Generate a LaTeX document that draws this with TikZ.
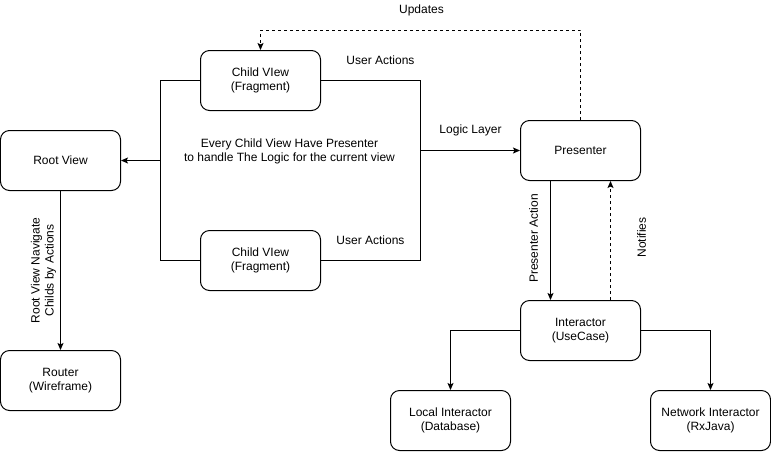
\documentclass[tikz,border=0pt]{standalone}
\usepackage{fontspec}
\setmainfont{Liberation Sans}
\usetikzlibrary{positioning, arrows.meta}

\begin{document}
\begin{tikzpicture}
	[
	   x = 1pt, y = -1pt,
	   every node/.style = {font = \fontsize{12}{14}\selectfont},
	   box/.style = {draw, line width = 1pt, rounded corners = 9pt, minimum width = 120pt, minimum height = 60pt, align = center},
	   wire/.style = {line width = 1pt},
	   conn/.style = {wire, -{Stealth[length = 7pt, width = 6pt, inset = 1.5pt]}},
	   notice/.style = {dash pattern = on 3pt off 3pt},
	   tag/.style = {inner sep = 1pt, align = center},
	]
	\useasboundingbox (-0.5,-0.5) rectangle (770.5,450.5);
	% boxes
	\node [box] (childtop) at (260,80) {Child VIew\\(Fragment)};
	\node [box] (childbot) at (260,260) {Child VIew\\(Fragment)};
	\node [box] (root) at (60,160) {Root View};
	\node [box] (router) at (60,380) {Router\\(Wireframe)};
	\node [box] (presenter) at (580,150) {Presenter};
	\node [box] (interactor) at (580,330) {Interactor\\(UseCase)};
	\node [box] (local) at (450,420) {Local Interactor\\(Database)};
	\node [box] (network) at (710,420) {Network Interactor\\(RxJava)};
	% bus lines round the child views
	\coordinate (leftbus) at (160,160);
	\coordinate (rightbus) at (420,150);
	\draw [wire] (childtop.west) -| (leftbus) |- (childbot.west);
	\draw [wire] (childtop.east) -| (rightbus) |- (childbot.east);
	\draw [conn] (leftbus) -- (root.east);
	\draw [conn] (rightbus) -- (presenter.west);
	% presenter and interactor
	\draw [conn, notice] (presenter.north) -- ++(0,-90) -| (childtop.north);
	\draw [conn] ([xshift = -30pt]presenter.south) -- ([xshift = -30pt]interactor.north);
	\draw [conn, notice] ([xshift = 30pt]interactor.north) -- ([xshift = 30pt]presenter.south);
	\draw [conn] (interactor.west) -| (local.north);
	\draw [conn] (interactor.east) -| (network.north);
	\draw [conn] (root.south) -- (router.north);
	% labels
	\node [tag] (updateslbl) at (421,10) {Updates};
	\node [tag] (actionstop) at (380,60) {User Actions};
	\node [tag] (actionsbot) at (370,240) {User Actions};
	\node [tag] (logiclbl) at (470,130) {Logic Layer};
	\node [tag] (everylbl) at (289,151) {Every Child View Have Presenter\\to handle The Logic for the current view};
	\node [tag, rotate = 90] (navlbl) at (43,270) {Root View Navigate\\Childs by Actions};
	\node [tag, rotate = 90] (actionlbl) at (533,238) {Presenter Action};
	\node [tag, rotate = 90] (notifylbl) at (641,237) {Notifies};
\end{tikzpicture}
\end{document}
